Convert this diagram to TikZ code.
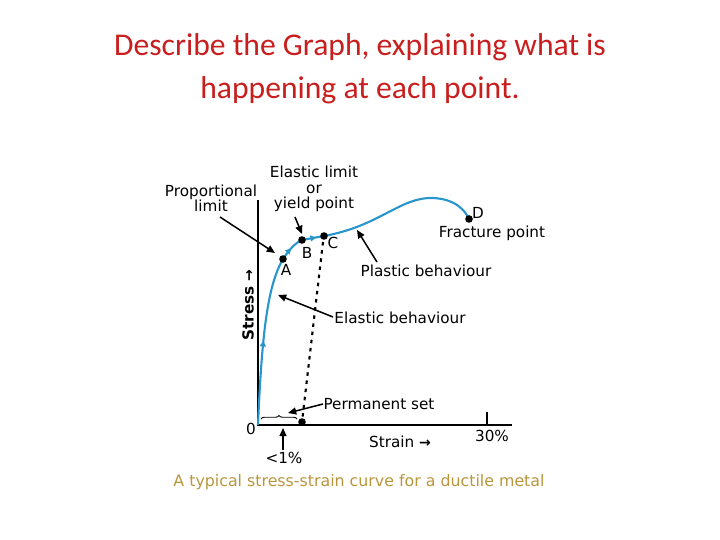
\documentclass[tikz,border=0pt]{standalone}
\usepackage{fontspec}
\setmainfont{DejaVu Sans}
\newfontfamily\titlefont{Carlito}
\usetikzlibrary{arrows.meta,decorations.pathreplacing,decorations.markings}
\definecolor{curveblue}{RGB}{40,150,205}
\definecolor{titlered}{RGB}{200,30,30}
\definecolor{captiongold}{RGB}{185,150,60}

\begin{document}
\begin{tikzpicture}[x=0.03cm,y=-0.03cm,% pixel grid of the reference
					every node/.style={
						align=center,
						font=\fontsize{13}{13}\selectfont
						},
					pointer/.style={-{Triangle[length=7pt,width=6pt]},line width=1.3pt},
					dot/.style={circle,fill=black,inner sep=0pt,minimum size=6.5pt},
					curvetip/.style={decoration={markings,mark=at position #1 with {\arrow{Triangle[length=5pt,width=5pt]}}},postaction=decorate}
					]
\useasboundingbox (0,0) rectangle (720,540);
% title
\node[titlered,font=\titlefont\fontsize{27}{37}\selectfont](title) at (360,69){Describe the Graph, explaining what is\\ happening at each point.};
% axes
\coordinate (O) at (258,425);
\draw[line width=1.8pt] (258,200) -- (O) -- (512,425);
\draw[line width=1.8pt] (487,412) -- (487,425);
% curve
\coordinate (A) at (283,259);
\coordinate (B) at (302,240);
\coordinate (C) at (324,236);
\coordinate (D) at (469,219);
\draw[curveblue,line width=1.8pt,curvetip=0.5] (O) .. controls (262,330) and (268,285) .. (A);
\draw[curveblue,line width=1.8pt,curvetip=0.5] (A) .. controls (289,250) and (295,243) .. (B);
\draw[curveblue,line width=1.8pt,curvetip=0.65] (B) -- (C);
\draw[curveblue,line width=1.8pt] (C) .. controls (380,226) and (400,197) .. (433,198) .. controls (455,199) and (465,210) .. (D);
% unloading line
\node[dot](E) at (302,422){};
\draw[line width=1.8pt,dash pattern=on 3pt off 4pt] (323,242) -- (E);
\foreach \p in {A,B,C,D} \node[dot] at (\p){};
\draw[decorate,decoration={brace,amplitude=3pt},thick] (261,419) -- (297,419);
% labels
\node(lA) at (286,270){A};
\node(lB) at (307,253){B};
\node(lC) at (333,243){C};
\node(lD) at (478,213){D};
\node(prop) at (211,198){Proportional\\ limit};
\node(yield) at (314,189){Elastic limit\\ or\\ yield point};
\node(frac) at (492,233){Fracture point};
\node(plast) at (426,271){Plastic behaviour};
\node(elast) at (400,318){Elastic behaviour};
\node(perm) at (379,404){Permanent set};
\node(stress) at (248,305)[rotate=90]{\bfseries Stress {\large\textbf{→}}};
\node(strain) at (400,442){Strain {\large\textbf{→}}};
\node(pc) at (492,436){30\%};
\node(zero) at (251,429){0};
\node(lt) at (284,458){<1\%};
\node[captiongold,font=\fontsize{13.5}{15}\selectfont](caption) at (359,482){A typical stress-strain curve for a ductile metal};
% pointers
\draw[pointer] (220,217) -- (275,253);
\draw[pointer] (295,217) -- (302,234);
\draw[pointer] (377,262) -- (357,230);
\draw[pointer] (333,317) -- (278,295);
\draw[pointer] (323,404) -- (288,413);
\draw[pointer] (283,450) -- (283,428);
\end{tikzpicture}
\end{document}
